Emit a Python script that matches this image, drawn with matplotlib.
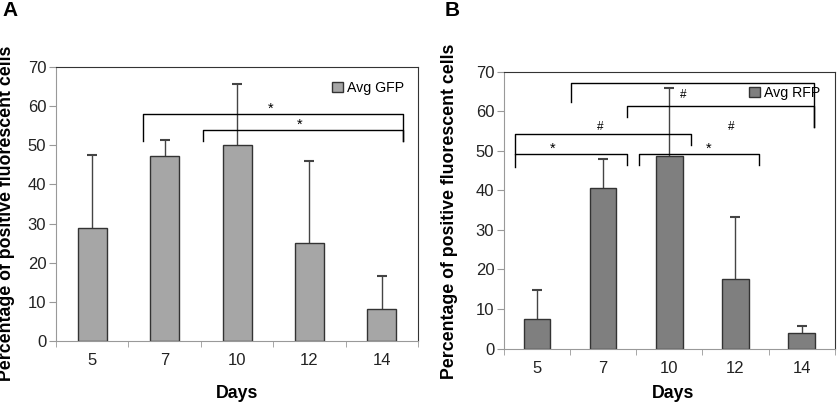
import matplotlib.pyplot as plt
import numpy as np

plt.rcParams['font.family'] = ['Liberation Sans', 'DejaVu Sans']

days = ['5', '7', '10', '12', '14']
gfp_avg = [28.9, 47.3, 50.1, 25.1, 8.1]
gfp_err = [18.7, 4.1, 15.6, 20.9, 8.4]
rfp_avg = [7.4, 40.5, 48.7, 17.7, 3.9]
rfp_err = [7.4, 7.5, 17.2, 15.5, 1.9]

# significance brackets: (x_left, x_right, y, left drop, right drop)
gfp_brackets = [(0.70, 4.29, 58.0, 51.0, 51.0),
                (1.53, 4.29, 53.9, 51.0, 51.0)]
gfp_marks = [(2.46, 59.4, '*'), (2.87, 55.3, '*')]
rfp_brackets = [(0.51, 4.19, 67.2, 62.3, 56.1),
                (1.36, 4.19, 61.2, 58.6, 56.1),
                (-0.33, 2.32, 54.1, 49.1, 51.5),
                (-0.33, 1.36, 49.1, 46.0, 46.5),
                (1.54, 3.35, 49.1, 46.5, 46.5)]
rfp_marks = [(2.21, 64.1, '#'), (0.95, 56.1, '#'), (2.93, 56.1, '#'),
             (0.23, 50.4, '*'), (2.60, 50.4, '*')]

fig = plt.figure(figsize=(8.4, 4.04), dpi=100)
axA = fig.add_axes([0.0667, 0.156, 0.431, 0.678])
axB = fig.add_axes([0.600, 0.137, 0.3937, 0.686])


def draw(ax, vals, errs, color, label, brackets, marks):
    x = np.arange(len(days))
    vals = np.array(vals)
    tops = vals + np.array(errs)
    ax.bar(x, vals, width=0.4, color=color, edgecolor='#333333',
           linewidth=1, label=label, zorder=2)
    # upper error bars only
    ax.vlines(x, vals, tops, color='#444444', lw=1, zorder=1)
    ax.plot(x, tops, linestyle='none', marker='_', markersize=7,
            mew=1.5, color='#444444', zorder=1)
    for x0, x1, y, d0, d1 in brackets:
        ax.plot([x0, x0, x1, x1], [d0, y, y, d1], color='black', lw=1,
                zorder=3)
    for mx, my, t in marks:
        fs = 10.5 if t == '*' else 8.5
        ax.text(mx, my, t, ha='center', va='center', fontsize=fs)
    ax.set_xlim(-0.5, len(days) - 0.5)
    ax.set_ylim(0, 70)
    ax.set_yticks(range(0, 71, 10))
    ax.set_xticks(x)
    ax.set_xticklabels(days)
    ax.set_xticks(np.arange(-0.5, len(days), 1), minor=True)
    ax.tick_params(axis='x', which='major', length=0, pad=9,
                   labelsize=12, colors='#222222')
    ax.tick_params(axis='x', which='minor', length=4, color='#999999',
                   direction='out')
    ax.tick_params(axis='y', length=5, color='#999999', labelsize=12,
                   pad=2, labelcolor='#222222')
    for s in ['left', 'bottom']:
        ax.spines[s].set_color('#999999')
    for s in ['top', 'right']:
        ax.spines[s].set_color('#333333')
    ax.legend(loc='upper right', frameon=False, fontsize=10.2,
              handlelength=0.75, handleheight=0.75, handletextpad=0.3,
              borderaxespad=0.6)


draw(axA, gfp_avg, gfp_err, '#a6a6a6', 'Avg GFP', gfp_brackets, gfp_marks)
draw(axB, rfp_avg, rfp_err, '#7f7f7f', 'Avg RFP', rfp_brackets, rfp_marks)

fig.text(2 / 840, 1 - 10 / 404, 'A', fontsize=15, fontweight='bold',
         va='center', ha='left')
fig.text(445 / 840, 1 - 10 / 404, 'B', fontsize=15, fontweight='bold',
         va='center', ha='left')

ylab = 'Percentage of positive fluorescent cells'
fig.text(7 / 840, 1 - 213 / 404, ylab, rotation=90, fontsize=12.8,
         fontweight='bold', ha='center', va='center')
fig.text(450 / 840, 1 - 211 / 404, ylab, rotation=90, fontsize=12.8,
         fontweight='bold', ha='center', va='center')
fig.text(237 / 840, 1 - 393 / 404, 'Days', fontsize=12.8, fontweight='bold',
         ha='center', va='center')
fig.text(673 / 840, 1 - 393 / 404, 'Days', fontsize=12.8, fontweight='bold',
         ha='center', va='center')

fig.savefig('out.png', dpi=100)
